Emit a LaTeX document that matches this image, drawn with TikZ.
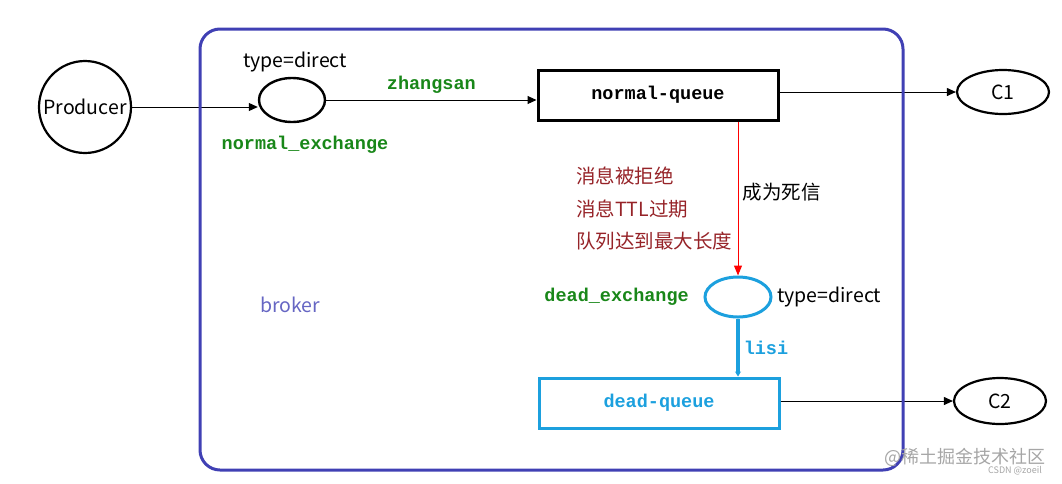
\documentclass[tikz,border=0pt]{standalone}
\usepackage{fontspec}
\setmainfont{Noto Sans CJK SC}
\setmonofont{Liberation Mono}
\usepackage{xcolor}
\usetikzlibrary{
  arrows.meta,
  positioning,
  shapes.geometric
}
\definecolor{brokerblue}{RGB}{64,64,180}
\definecolor{keygreen}{RGB}{25,135,25}
\definecolor{deadcyan}{RGB}{28,160,222}
\definecolor{reasonred}{RGB}{150,35,40}
\newcommand{\lblfont}{\fontsize{19.5}{22}\selectfont}
\newcommand{\codefont}{\fontsize{18.5}{21}\selectfont}

\begin{document}
\begin{tikzpicture}[
  x=1pt, y=-1pt,
  actor/.style={draw, line width=2.2pt, inner sep=0pt, font=\lblfont},
  queue/.style={draw=#1, line width=3pt, minimum width=240pt, minimum height=50pt, inner sep=0pt},
  code/.style={font=\ttfamily\bfseries\codefont, text=#1, inner sep=1pt},
  lbl/.style={font=\lblfont, inner sep=1pt},
  arrow/.style={-{Triangle[length=9pt,width=8pt]}, line width=1pt}
]
  \useasboundingbox (0,0) rectangle (1062,483);

  % Producer
  \node[actor, circle, minimum size=92pt] (prod) at (85,107) {Producer};

  % Normal exchange
  \node[draw, ellipse, line width=2.4pt, minimum width=66pt, minimum height=44pt] (nex) at (292,100) {};
  \node[lbl] (ntype) at (295,62) {type=direct};
  \node[code=keygreen] (nname) at (305,145) {normal\_exchange};

  % Normal queue
  \node[queue=black] (nq) at (658,95) {};
  \node[code=black] at (nq) {normal-queue};

  % Consumers
  \node[actor, ellipse, minimum width=92pt, minimum height=44pt] (c1) at (1003,92) {C1};
  \node[actor, ellipse, minimum width=92pt, minimum height=46pt] (c2) at (1000,401) {C2};

  % Dead-letter reasons
  \node[lbl, text=reasonred, anchor=west] (reason1) at (575,176) {消息被拒绝};
  \node[lbl, text=reasonred, anchor=west] (reason2) at (575,209) {消息TTL过期};
  \node[lbl, text=reasonred, anchor=west] (reason3) at (575,241) {队列达到最大长度};

  % Dead exchange
  \node[draw=deadcyan, ellipse, line width=3pt, minimum width=66pt, minimum height=40pt] (dex) at (738,297) {};
  \node[code=keygreen, anchor=east] (dname) at (690,297) {dead\_exchange};
  \node[lbl, anchor=west] (dtype) at (776,297) {type=direct};

  % Dead queue
  \node[queue=deadcyan] (dq) at (659,403) {};
  \node[code=deadcyan] at (dq) {dead-queue};

  % Broker
  \node[lbl, text=brokerblue!80] (broker) at (290,305) {broker};

  % Arrows
  \draw[arrow] (prod) -- (prod -| nex.west);
  \draw[arrow] (nex) -- (nex -| nq.west) node[midway, above=5pt, code=keygreen] {zhangsan};
  \draw[arrow] (c1 -| nq.east) -- (c1);
  \draw[-{Triangle[length=10pt,width=8pt]}, red, line width=1pt] (nq.south -| dex.north) -- (dex.north)
    node[pos=0.46, right=3pt, lbl, text=black] {成为死信};
  \draw[draw=deadcyan, line width=3.5pt, -{Stealth[length=5pt,width=6pt]}] (dex.south) -- (dq.north -| dex.south)
    node[midway, right=3pt, code=deadcyan] {lisi};
  \draw[arrow] (c2 -| dq.east) -- (c2);

  % Broker frame
  \node[draw=brokerblue, line width=3pt, rounded corners=20pt, minimum width=703pt, minimum height=441pt] (frame) at (551.5,249.5) {};

  % Watermark
  \node[font=\fontsize{18}{20}\selectfont, text=black!35] (mark1) at (965,457) {@稀土掘金技术社区};
  \node[font=\fontsize{9}{10}\selectfont, text=black!35] (mark2) at (1015,471) {CSDN @zoeil};
\end{tikzpicture}
\end{document}
